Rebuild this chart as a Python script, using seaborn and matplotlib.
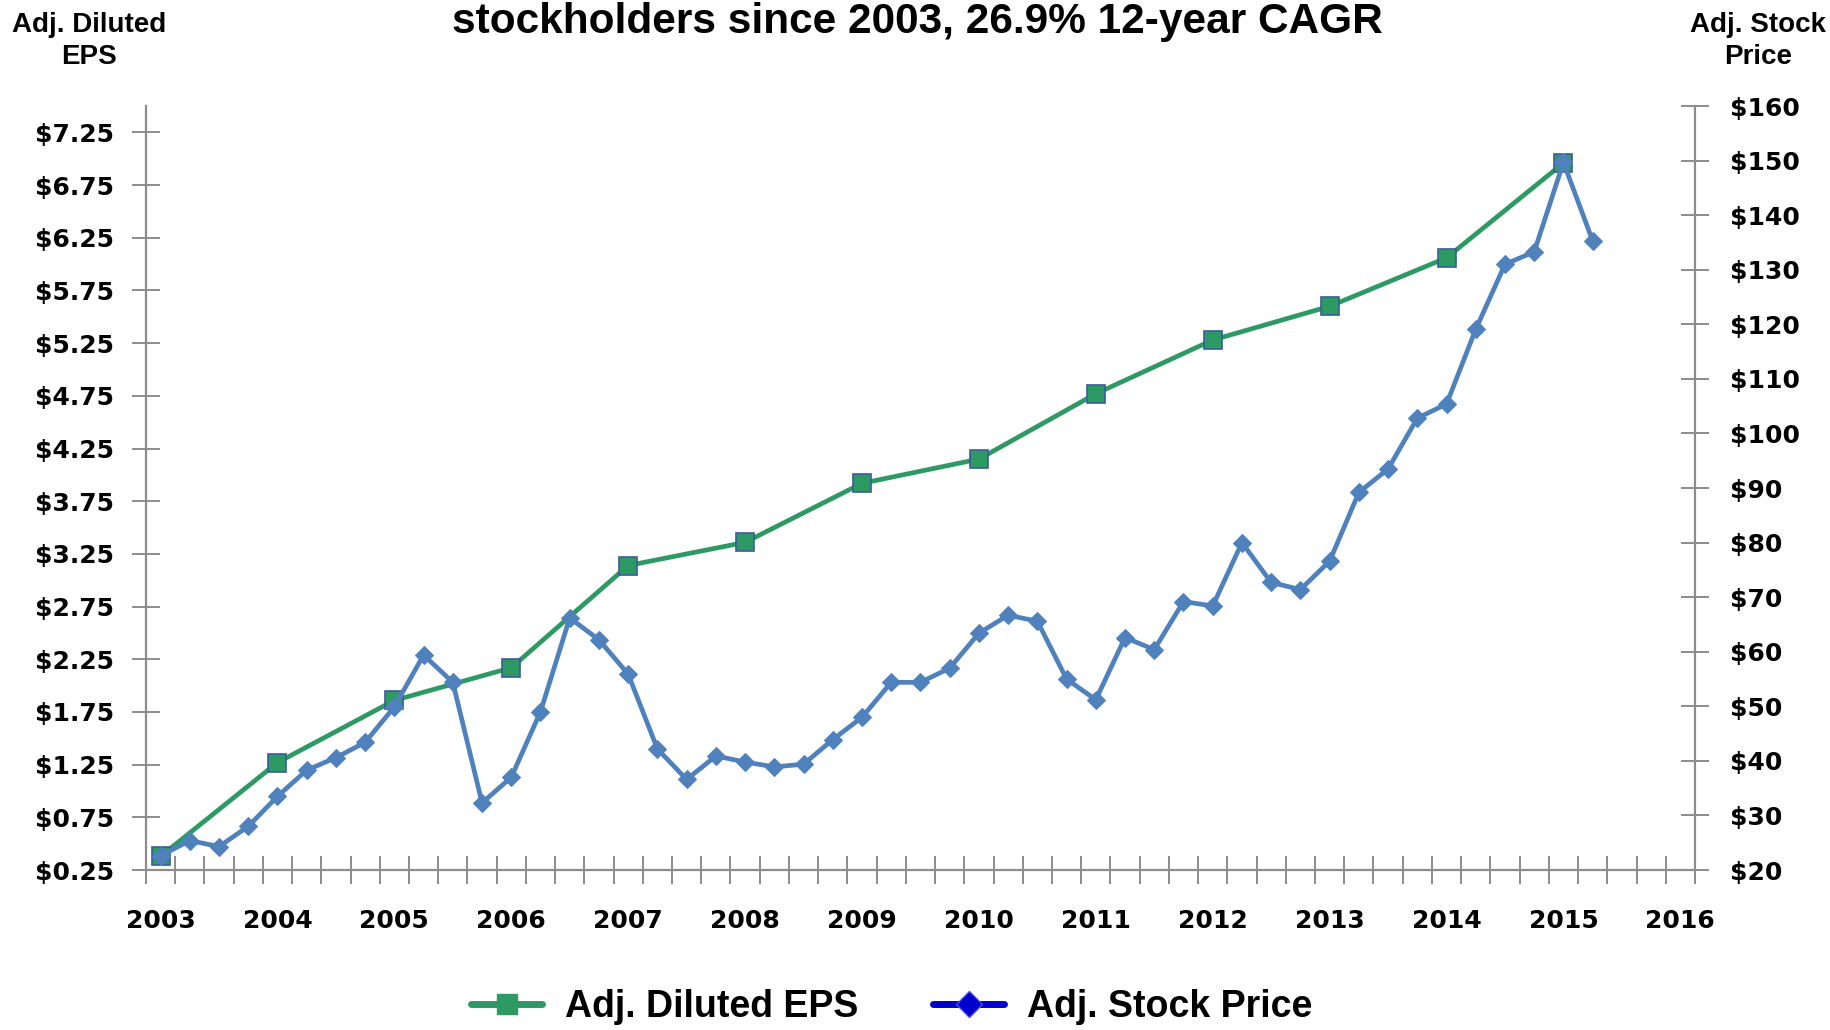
import numpy as np
import matplotlib
matplotlib.use("Agg")
import matplotlib.pyplot as plt
from matplotlib.lines import Line2D
from matplotlib.ticker import FuncFormatter, FixedLocator
import seaborn as sns

# ---------------------------------------------------------------------------
# Data
# ---------------------------------------------------------------------------
eps_years = [2003, 2004, 2005, 2006, 2007, 2008, 2009,
             2010, 2011, 2012, 2013, 2014, 2015]
eps_values = [0.38, 1.27, 1.86, 2.17, 3.14, 3.36, 3.92,
              4.15, 4.77, 5.28, 5.60, 6.06, 6.96]

# quarterly adjusted stock price, 2003 Q1 .. 2015 Q2
price_start_year = 2003
price_values = [22.6, 25.4, 24.3, 28.0,
                33.5, 38.3, 40.6, 43.4,
                49.9, 59.4, 54.4, 32.3,
                37.0, 49.0, 66.2, 62.2,
                55.9, 42.2, 36.6, 40.9,
                39.8, 38.9, 39.4, 43.9,
                48.0, 54.4, 54.4, 57.0,
                63.4, 66.7, 65.6, 55.0,
                51.2, 62.6, 60.4, 69.2,
                68.4, 80.0, 72.7, 71.4,
                76.6, 89.2, 93.5, 102.8,
                105.4, 119.1, 131.0, 133.3,
                149.7, 135.3]

year_labels = list(range(2003, 2017))
eps_ticks = [0.25, 0.75, 1.25, 1.75, 2.25, 2.75, 3.25, 3.75,
             4.25, 4.75, 5.25, 5.75, 6.25, 6.75, 7.25]
price_ticks = list(range(20, 161, 10))

title = "stockholders since 2003, 26.9% 12-year CAGR"

GREEN = "#2E9A63"
BLUE = "#4F81BD"
EDGE = "#3B5C9E"
GRID = "#8C8C8C"

# ---------------------------------------------------------------------------
# Plot
# ---------------------------------------------------------------------------
sns.set_style("white")
plt.rcParams["font.family"] = ["DejaVu Sans"]
plt.rcParams["text.color"] = "black"
plt.rcParams["xtick.color"] = "black"
plt.rcParams["ytick.color"] = "black"

fig = plt.figure(figsize=(18.31, 10.30), dpi=100)
ax = fig.add_axes([0.0797, 0.1553, 0.846, 0.7417])
ax2 = ax.twinx()

price_x = price_start_year + 0.25 * np.arange(len(price_values))

sns.lineplot(x=eps_years, y=eps_values, ax=ax, color=GREEN, linewidth=3.4,
             marker="s", markersize=13, markerfacecolor=GREEN,
             markeredgecolor=EDGE, markeredgewidth=1.2)
sns.lineplot(x=price_x, y=price_values, ax=ax2, color=BLUE, linewidth=3.4,
             marker="D", markersize=9, markerfacecolor=BLUE,
             markeredgecolor=BLUE)

ax.set_xlim(2002.875, 2016.125)
ax.set_ylim(0.25, 7.5)
ax2.set_ylim(20, 160)

ax.set_yticks(eps_ticks)
ax.yaxis.set_major_formatter(FuncFormatter(lambda v, _: f"${v:.2f}"))
ax2.set_yticks(price_ticks)
ax2.yaxis.set_major_formatter(FuncFormatter(lambda v, _: f"${v:.0f}"))

ax.set_xticks(year_labels)
ax.set_xticklabels([str(y) for y in year_labels])
ax.xaxis.set_minor_locator(FixedLocator(2002.875 + 0.25 * np.arange(54)))

for a in (ax, ax2):
    for s in a.spines.values():
        s.set_visible(False)
    a.set_xlabel("")
    a.set_ylabel("")
    a.grid(False)

ax.spines["left"].set_visible(True)
ax.spines["bottom"].set_visible(True)
ax2.spines["right"].set_visible(True)
for s in (ax.spines["left"], ax.spines["bottom"], ax2.spines["right"]):
    s.set_color(GRID)
    s.set_linewidth(1.6)

tick_font = dict(labelsize=18, labelcolor="black")
ax.tick_params(axis="y", direction="inout", length=20, width=1.4, color=GRID,
               pad=13, left=True, **tick_font)
ax2.tick_params(axis="y", direction="inout", length=20, width=1.4, color=GRID,
                pad=15, right=True, **tick_font)
ax.tick_params(axis="x", which="major", length=0, pad=28, **tick_font)
ax.tick_params(axis="x", which="minor", direction="inout", length=20,
               width=1.4, color=GRID, bottom=True)
for lab in ax.get_yticklabels() + ax2.get_yticklabels() + ax.get_xticklabels():
    lab.set_fontweight("bold")

# titles and axis captions
fig.text(0.501, 0.979, title, ha="center", va="center", fontsize=30.5,
         fontweight="bold", family="Liberation Sans", color="black")
fig.text(0.0485, 0.960, "Adj. Diluted\nEPS", ha="center", va="center",
         fontsize=20, fontweight="bold", family="Liberation Sans",
         linespacing=1.3, color="black")
fig.text(0.960, 0.960, "Adj. Stock\nPrice", ha="center", va="center",
         fontsize=20, fontweight="bold", family="Liberation Sans",
         linespacing=1.3, color="black")

handles = [
    Line2D([], [], color=GREEN, linewidth=5, marker="s", markersize=15,
           markerfacecolor=GREEN, markeredgecolor=GREEN),
    Line2D([], [], color="#0000CC", linewidth=5, marker="D", markersize=13,
           markerfacecolor="#0000CC", markeredgecolor="#4C4CE0"),
]
fig.legend(handles, ["Adj. Diluted EPS", "Adj. Stock Price"], loc="center",
           bbox_to_anchor=(0.487, 0.022), ncol=2, frameon=False,
           prop=dict(family="Liberation Sans", weight="bold", size=27),
           handlelength=1.9, columnspacing=2.0, handletextpad=0.6)

fig.savefig("out.png", dpi=100)
